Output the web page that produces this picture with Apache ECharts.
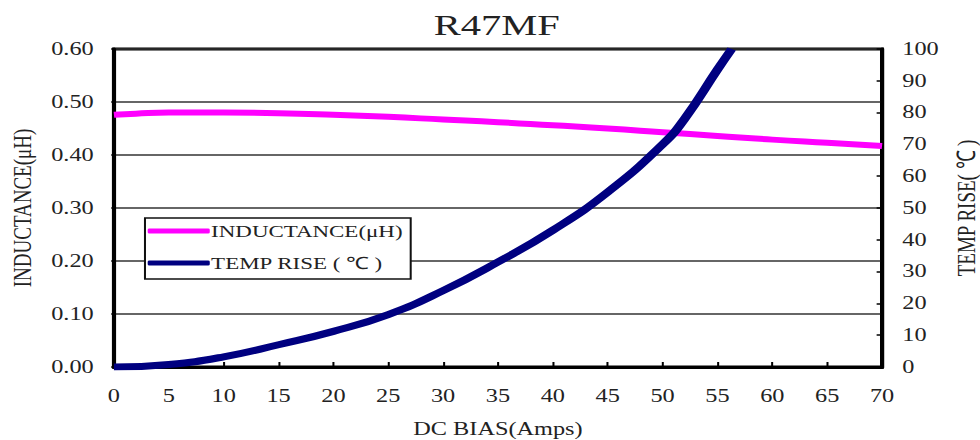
<!DOCTYPE html>
<html><head><meta charset="utf-8">
<script src="https://cdn.jsdelivr.net/npm/echarts@6/dist/echarts.min.js"></script>
<style>html,body{margin:0;padding:0;background:#fff;overflow:hidden}#c{width:726px;height:440px;transform:scaleX(1.3499);transform-origin:0 0}</style>
</head><body><div id="c"></div>
<script>
const titleText = 'R47MF';
const xTicks = [0,5,10,15,20,25,30,35,40,45,50,55,60,65,70];
const inductanceX = [0,2,5,10,15,20,25,30,35,40,45,50,55,60,65,70];
const inductanceY = [0.476,0.478,0.480,0.480,0.479,0.476,0.472,0.467,0.462,0.456,0.450,0.443,0.436,0.429,0.423,0.417];
const tempX = [0,5,10,15,20,25,30,35,40,45,50,52,55,56.3];
const tempY = [0,0.8,3.2,7,11.2,16.5,24,33,43,55,70,78,93.5,100];
const names = ['INDUCTANCE(μH)','TEMP RISE ( ℃ )'];
const axisNames = ['DC BIAS(Amps)','INDUCTANCE(μH)','TEMP RISE( ℃ )'];

const font = 'Liberation Serif, Times New Roman, serif';
const chart = echarts.init(document.getElementById('c'), null, {renderer:'svg'});
chart.setOption({
  animation:false,
  backgroundColor:'#fff',
  title:{text:titleText,left:363,textAlign:'center',top:5,textStyle:{fontFamily:font,fontSize:30,fontWeight:'normal',color:'#222'}},
  grid:{left:84.4,right:72.6,top:49,bottom:73,show:true,borderColor:'#000',borderWidth:3,backgroundColor:'transparent',outerBoundsMode:'none',containLabel:false},
  legend:{
    orient:'vertical',left:107.4,top:218,
    backgroundColor:'#fff',borderColor:'#111',borderWidth:1.5,borderRadius:0,
    padding:[3,6,6,2],itemGap:12,itemWidth:46,itemHeight:5,
    icon:'roundRect',
    textStyle:{fontFamily:font,fontSize:17,lineHeight:20,color:'#222',padding:[0,0,0,-4]},
    data:names
  },
  xAxis:{
    type:'value',min:0,max:70,interval:5,
    name:axisNames[0],nameLocation:'middle',nameGap:53,
    nameTextStyle:{fontFamily:font,fontSize:18,color:'#222'},
    axisLine:{lineStyle:{color:'#000',width:3}},
    axisTick:{inside:true,length:5,lineStyle:{color:'#000',width:1.5}},
    axisLabel:{margin:20,fontFamily:font,fontSize:18,color:'#222'},
    splitLine:{show:false}
  },
  yAxis:[{
    type:'value',min:0,max:0.6,interval:0.1,position:'left',
    name:axisNames[1],nameLocation:'middle',nameGap:58,nameRotate:90,
    nameTextStyle:{fontFamily:font,fontSize:19,color:'#222'},
    axisLine:{show:true,lineStyle:{color:'#000',width:3}},
    axisTick:{show:true,length:2,lineStyle:{color:'#000',width:1.5}},
    axisLabel:{margin:15,fontFamily:font,fontSize:18,color:'#222',formatter:v=>v.toFixed(2)},
    splitLine:{show:true,lineStyle:{color:'#333',width:1.5}}
  },{
    type:'value',min:0,max:100,interval:10,position:'right',
    name:axisNames[2],nameLocation:'middle',nameGap:52,nameRotate:90,
    nameTextStyle:{fontFamily:font,fontSize:19,color:'#222'},
    axisLine:{show:true,lineStyle:{color:'#000',width:3}},
    axisTick:{show:true,inside:true,length:4,lineStyle:{color:'#000',width:1.5}},
    axisLabel:{margin:15,fontFamily:font,fontSize:18,color:'#222'},
    splitLine:{show:false}
  }],
  series:[{
    name:names[0],type:'line',yAxisIndex:0,smooth:true,showSymbol:false,
    lineStyle:{color:'#ff00ff',width:6},itemStyle:{color:'#ff00ff'},
    data:inductanceX.map((x,i)=>[x,inductanceY[i]])
  },{
    name:names[1],type:'line',yAxisIndex:1,smooth:true,showSymbol:false,
    lineStyle:{color:'#000080',width:7},itemStyle:{color:'#000080'},
    data:tempX.map((x,i)=>[x,tempY[i]])
  }]
});
</script></body></html>
